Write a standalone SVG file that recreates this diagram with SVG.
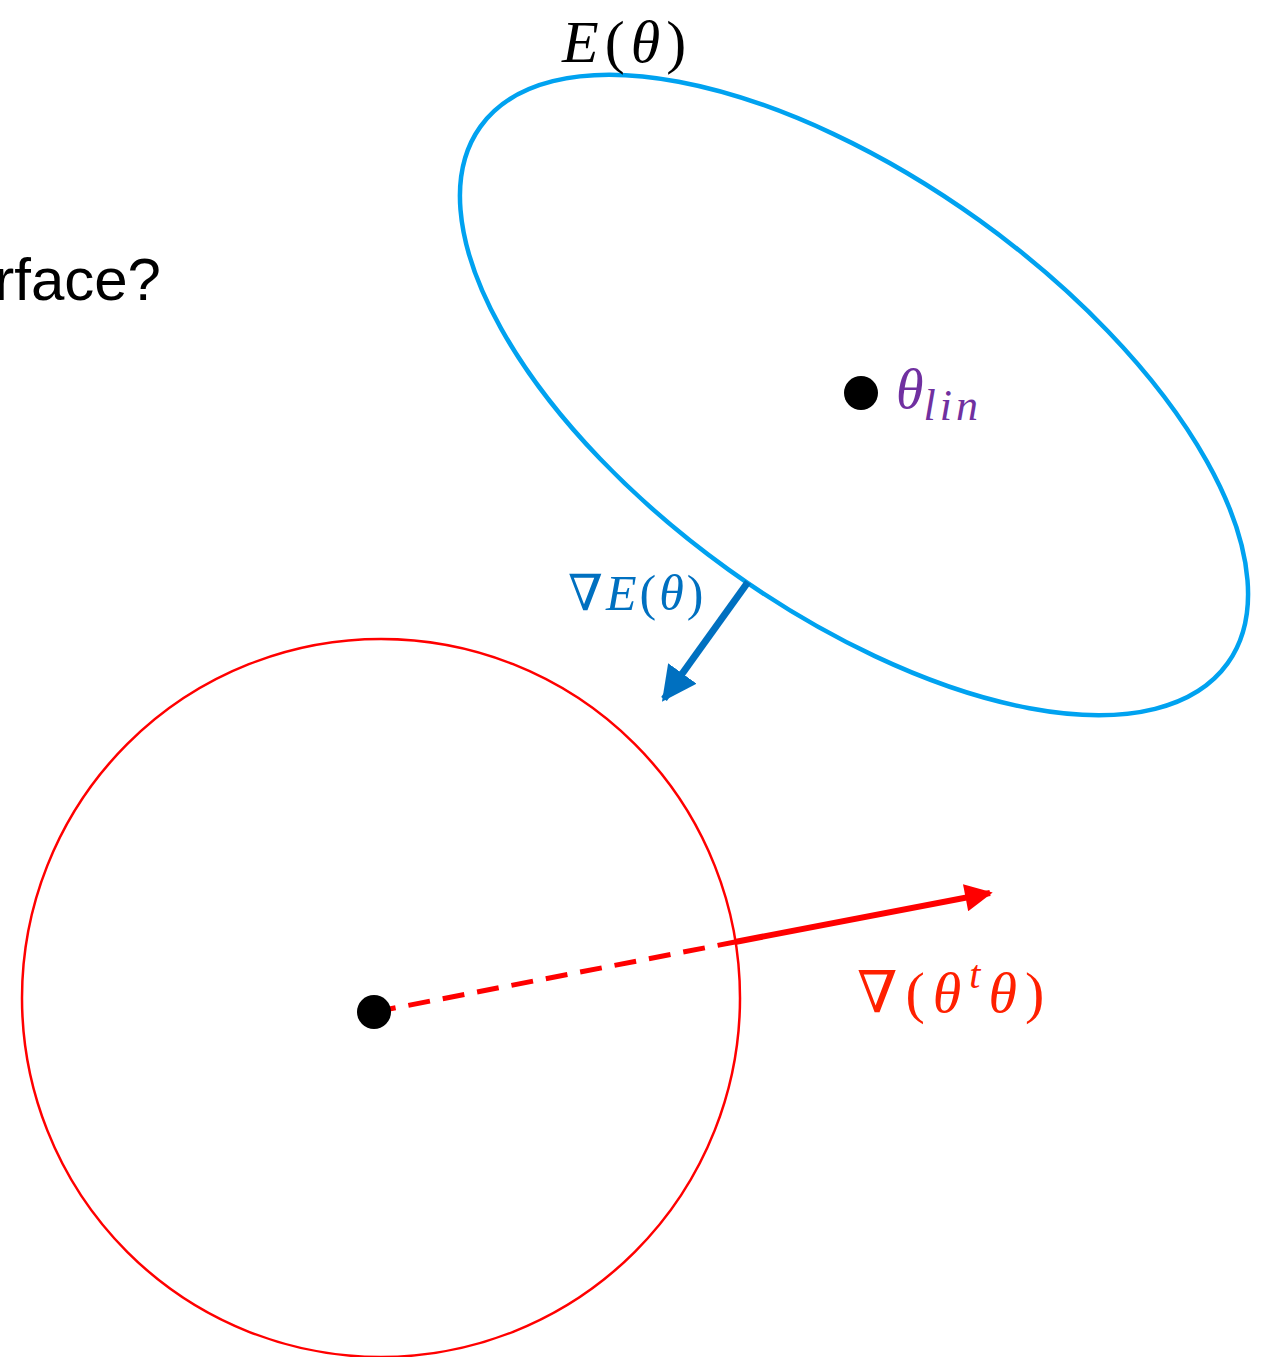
<svg xmlns="http://www.w3.org/2000/svg" width="1269" height="1357" viewBox="0 0 1269 1357">
<style>
.m{font-family:"Liberation Serif","DejaVu Serif",serif;font-style:italic}
.u{font-style:normal}
</style>
<defs>
<marker id="ab" viewBox="0 0 10 10" refX="9" refY="5" markerWidth="5" markerHeight="5" orient="auto" markerUnits="strokeWidth"><path d="M0,0L10,5L0,10z" fill="#0070C0"/></marker>
<marker id="ar" viewBox="0 0 10 10" refX="9" refY="5" markerWidth="5" markerHeight="4.6" orient="auto" markerUnits="strokeWidth"><path d="M0,0L10,5L0,10z" fill="#FF0000"/></marker>
</defs>
<rect width="1269" height="1357" fill="#fff"/>
<text x="161" y="300" text-anchor="end" font-family="Liberation Sans,Arial,sans-serif" font-size="60">rface?</text>
<g id="ellipse">
<ellipse cx="854" cy="395" rx="460" ry="215" transform="rotate(35.7 854 395)" fill="none" stroke="#00A2F0" stroke-width="4.5"/>
</g>
<g id="circle">
<circle cx="381" cy="998" r="359" fill="none" stroke="#FF0000" stroke-width="2.5"/>
</g>
<g id="connectors">
<line x1="374" y1="1012" x2="735" y2="942" stroke="#FF0000" stroke-width="5" stroke-dasharray="22,13"/>
<line x1="735" y1="942" x2="990" y2="893" stroke="#FF0000" stroke-width="6" marker-end="url(#ar)"/>
<line x1="748" y1="582" x2="664" y2="699" stroke="#0070C0" stroke-width="7" marker-end="url(#ab)"/>
</g>
<g id="dot-center"><circle cx="374" cy="1012" r="17" fill="#000"/></g>
<g id="dot-lin"><circle cx="861" cy="393" r="17" fill="#000"/></g>
<g id="label-E">
<text x="562" y="62" class="m" font-size="60" letter-spacing="6">E<tspan class="u">(</tspan>θ<tspan class="u">)</tspan></text>
</g>
<g id="label-lin">
<text x="896" y="408" class="m" font-size="56" fill="#7030A0">θ<tspan font-size="44" dy="12" letter-spacing="4">lin</tspan></text>
</g>
<g id="label-gradE">
<text x="568" y="610" class="m" font-size="50" fill="#0070C0" letter-spacing="3"><tspan class="u">∇</tspan>E<tspan class="u">(</tspan>θ<tspan class="u">)</tspan></text>
</g>
<g id="label-gradT">
<text x="857" y="1012" class="m" font-size="58" fill="#FF2000" letter-spacing="8"><tspan class="u">∇(</tspan>θ<tspan font-size="40" dy="-24">t</tspan><tspan dy="24">θ</tspan><tspan class="u">)</tspan></text>
</g>
</svg>
